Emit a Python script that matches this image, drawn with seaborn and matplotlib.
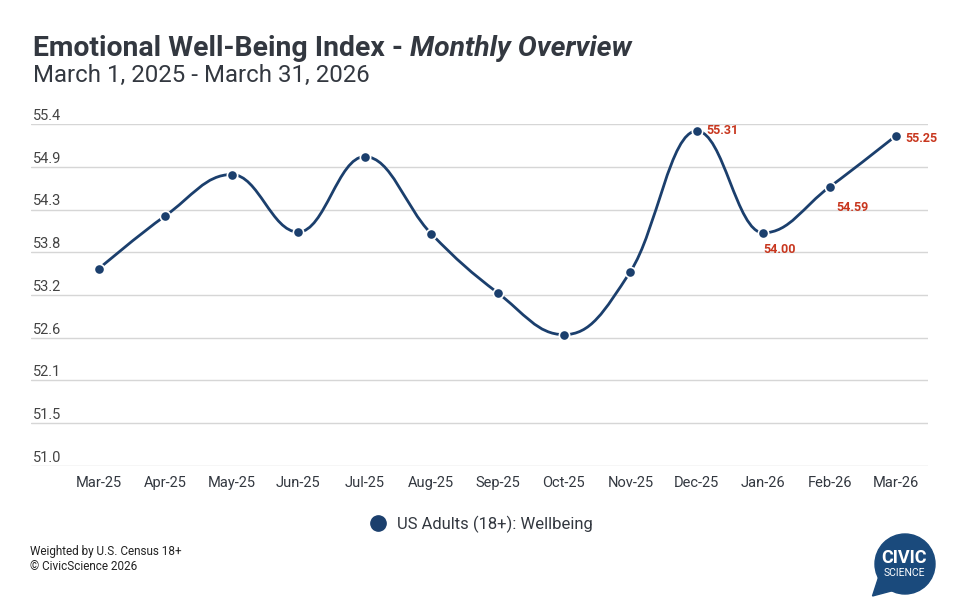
import numpy as np
import matplotlib
matplotlib.use("Agg")
import matplotlib.pyplot as plt
from matplotlib.path import Path
from matplotlib.patches import PathPatch, Circle, Polygon
from matplotlib.lines import Line2D
import seaborn as sns

# data
months = ["Mar-25", "Apr-25", "May-25", "Jun-25", "Jul-25", "Aug-25", "Sep-25",
          "Oct-25", "Nov-25", "Dec-25", "Jan-26", "Feb-26", "Mar-26"]
wellbeing = [53.54, 54.22, 54.75, 54.01, 54.98, 53.99, 53.23,
             52.69, 53.50, 55.31, 54.00, 54.59, 55.25]
labelled_months = ["Dec-25", "Jan-26", "Feb-26", "Mar-26"]
y_ticks = np.linspace(51.0, 55.4, 9)
y_tick_labels = ["51.0", "51.5", "52.1", "52.6", "53.2", "53.8", "54.3", "54.9", "55.4"]

navy = "#1b3f6d"
red = "#c8371f"
txt = "#333840"

sns.set_theme(style="white")
plt.rcParams['font.family'] = ['Roboto', 'DejaVu Sans']


def spline_path(xs, ys, smoothing=1.5):
    # highcharts-like spline: cubic bezier through each point
    denom = smoothing + 1
    n = len(xs)
    right = [None] * n
    verts = [(xs[0], ys[0])]
    codes = [Path.MOVETO]
    for i in range(1, n):
        px, py = xs[i], ys[i]
        lx, ly = xs[i - 1], ys[i - 1]
        lcx, lcy = px, py
        if i < n - 1:
            nx, ny = xs[i + 1], ys[i + 1]
            lcx = (smoothing * px + lx) / denom
            lcy = (smoothing * py + ly) / denom
            rcx = (smoothing * px + nx) / denom
            rcy = (smoothing * py + ny) / denom
            corr = 0
            if rcx != lcx:
                corr = (rcy - lcy) * (rcx - px) / (rcx - lcx) + py - rcy
            lcy += corr
            rcy += corr
            if lcy > ly and lcy > py:
                lcy = max(ly, py)
                rcy = 2 * py - lcy
            elif lcy < ly and lcy < py:
                lcy = min(ly, py)
                rcy = 2 * py - lcy
            if rcy > ny and rcy > py:
                rcy = max(ny, py)
                lcy = 2 * py - rcy
            elif rcy < ny and rcy < py:
                rcy = min(ny, py)
                lcy = 2 * py - rcy
            right[i] = (rcx, rcy)
        prev = right[i - 1] if right[i - 1] is not None else (lx, ly)
        verts += [prev, (lcx, lcy), (px, py)]
        codes += [Path.CURVE4] * 3
    return Path(verts, codes)


W, H = 979, 616
fig = plt.figure(figsize=(W / 100, H / 100), dpi=100)
ax = fig.add_axes([31 / W, (H - 466) / H, 897 / W, 342 / H])

x = np.arange(len(months))
step = 66.4
ax.set_xlim(-68 / step, len(months) - 1 + 32 / step)
ax.set_ylim(51.0, 55.4)

ax.set_yticks(y_ticks)
ax.yaxis.grid(True, color="#d6d6d6", lw=1)
ax.tick_params(axis='y', length=0, labelleft=False)
ax.set_xticks(x, months)
ax.tick_params(axis='x', length=0, pad=7, labelsize=10.5, labelcolor=txt)
for s in ax.spines.values():
    s.set_visible(False)

for v, lab in zip(y_ticks, y_tick_labels):
    ax.annotate(lab, xy=(0, v), xycoords=('axes fraction', 'data'),
                xytext=(1.5, 3), textcoords='offset points',
                ha='left', va='baseline', fontsize=10.5, color="#444444")

ax.add_patch(PathPatch(spline_path(list(x), wellbeing), facecolor='none',
                       edgecolor=navy, lw=2, clip_on=False, zorder=2))
sns.scatterplot(x=x, y=wellbeing, ax=ax, s=55, color=navy, edgecolor='white',
                linewidth=1.2, zorder=3, clip_on=False, legend=False)

# data labels for the last four months
label_offsets = {"Dec-25": (7, 0, 'center'), "Jan-26": (0, -7, 'top'),
                 "Feb-26": (5, -10, 'top'), "Mar-26": (7, -2, 'center')}
for m in labelled_months:
    i = months.index(m)
    dx, dy, va = label_offsets[m]
    ax.annotate(f"{wellbeing[i]:.2f}", xy=(i, wellbeing[i]), xytext=(dx, dy),
                textcoords='offset points', ha='left', va=va,
                fontsize=9, fontweight='bold', color=red)

# title
renderer = fig.canvas.get_renderer()
t1 = fig.text(33 / W, 1 - 56 / H, "Emotional Well-Being Index - ", fontsize=20.4,
              fontweight='bold', color=txt, va='baseline', ha='left')
bb = t1.get_window_extent(renderer)
fig.text(bb.x1 / W, 1 - 56 / H, "Monthly Overview", fontsize=20.4,
         fontweight='bold', fontstyle='italic', color=txt, va='baseline', ha='left')
fig.text(33 / W, 1 - 82 / H, "March 1, 2025 - March 31, 2026", fontsize=17.3,
         color=txt, va='baseline', ha='left')

# legend
handle = Line2D([], [], marker='o', ls='', color=navy, markersize=11)
fig.legend(handles=[handle], labels=["US Adults (18+): Wellbeing"],
           loc='center', bbox_to_anchor=(477 / W, 1 - 524 / H), frameon=False,
           fontsize=12, handletextpad=0.1, labelcolor=txt)

# footer
fig.text(30 / W, 1 - 552 / H, "Weighted by U.S. Census 18+", fontsize=8.5,
         color="#222222", va='center', ha='left')
fig.text(30 / W, 1 - 567 / H, "© CivicScience 2026", fontsize=8.5,
         color="#222222", va='center', ha='left')

# logo
lax = fig.add_axes([866 / W, (H - 600) / H, 74 / W, 74 / H])
lax.set_xlim(866, 940)
lax.set_ylim(600, 526)
lax.axis('off')
logo = "#1a4a7c"
lax.add_patch(Circle((905, 564), 30, color=logo))
lax.add_patch(Polygon([(879, 576), (872.5, 596), (895, 590)], closed=True, color=logo))
lax.text(904, 558, "CIVIC", color='white', fontsize=13, fontweight='bold',
         ha='center', va='center')
lax.text(904, 573, "SCIENCE", color='white', fontsize=7.5, ha='center', va='center')

fig.savefig("out.png", dpi=100)
